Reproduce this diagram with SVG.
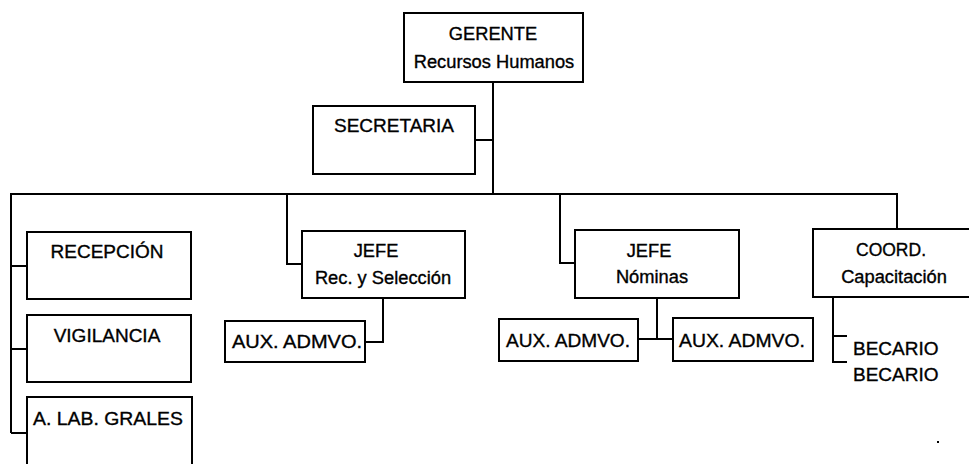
<svg xmlns="http://www.w3.org/2000/svg" width="969" height="464" viewBox="0 0 969 464">
  <style>
    .box { fill: #ffffff; stroke: #000000; stroke-width: 2; }
    .link { fill: none; stroke: #000000; stroke-width: 2; }
    text { font-family: "Liberation Sans", Arial, sans-serif; font-size: 19px; fill: #000000; stroke: #000000; stroke-width: 0.35; }
    .c { text-anchor: middle; }
    .s { font-size: 18.3px; }
  </style>
  <rect x="0" y="0" width="969" height="464" fill="#ffffff"/>

  <g id="connectors">
    <!-- trunk from the manager down to the main bus -->
    <path class="link" d="M493,82 V194"/>
    <path class="link" d="M475,140 H493"/>
    <!-- main bus -->
    <path class="link" d="M11,433 V194 H897 V229"/>
    <!-- left column ticks -->
    <path class="link" d="M11,266 H27 M11,349 H27 M11,433 H27"/>
    <!-- department heads -->
    <path class="link" d="M287,194 V264 H302"/>
    <path class="link" d="M560,194 V263 H575"/>
    <!-- assistants -->
    <path class="link" d="M383,298 V342 H365"/>
    <path class="link" d="M657,298 V339 M638,339 H673"/>
    <!-- interns bracket -->
    <path class="link" d="M833,297 V362 H847 M833,336 H847"/>
  </g>

  <g id="gerente">
    <rect class="box" x="404" y="13" width="179" height="69"/>
    <text class="c s" x="493" y="40">GERENTE</text>
    <text class="c s" x="494" y="68">Recursos Humanos</text>
  </g>

  <g id="secretaria">
    <rect class="box" x="313" y="106" width="162" height="68"/>
    <text class="c" x="394" y="132">SECRETARIA</text>
  </g>

  <g id="recepcion">
    <rect class="box" x="27" y="232" width="164" height="67"/>
    <text class="c" x="107" y="258">RECEPCIÓN</text>
  </g>

  <g id="vigilancia">
    <rect class="box" x="27" y="315" width="164" height="67"/>
    <text class="c" x="107" y="342">VIGILANCIA</text>
  </g>

  <g id="lab-grales">
    <path class="link" d="M27,470 V397 H192 V470"/>
    <text x="33" y="425" textLength="150" lengthAdjust="spacingAndGlyphs">A. LAB. GRALES</text>
  </g>

  <g id="jefe-seleccion">
    <rect class="box" x="302" y="231" width="163" height="67"/>
    <text class="c s" x="376" y="257">JEFE</text>
    <text class="c s" x="383" y="284">Rec. y Selección</text>
  </g>

  <g id="aux-seleccion">
    <rect class="box" x="225" y="321" width="140" height="41"/>
    <text class="c" x="297" y="348" textLength="130" lengthAdjust="spacingAndGlyphs">AUX. ADMVO.</text>
  </g>

  <g id="jefe-nominas">
    <rect class="box" x="575" y="230" width="164" height="68"/>
    <text class="c s" x="649" y="257">JEFE</text>
    <text class="c s" x="652" y="283">Nóminas</text>
  </g>

  <g id="aux-nominas-1">
    <rect class="box" x="499" y="319" width="139" height="42"/>
    <text class="c" x="568" y="347" textLength="124" lengthAdjust="spacingAndGlyphs">AUX. ADMVO.</text>
  </g>

  <g id="aux-nominas-2">
    <rect class="box" x="673" y="318" width="140" height="43"/>
    <text class="c" x="742" y="347" textLength="126" lengthAdjust="spacingAndGlyphs">AUX. ADMVO.</text>
  </g>

  <g id="coord-capacitacion">
    <rect class="box" x="813" y="229" width="170" height="68"/>
    <text class="c" x="891" y="256" style="font-size:17.5px">COORD.</text>
    <text class="c s" x="894" y="283">Capacitación</text>
  </g>

  <g id="becarios">
    <text x="853" y="355">BECARIO</text>
    <text x="853" y="381">BECARIO</text>
  </g>

  <rect x="937" y="441" width="2" height="2" fill="#000000"/>
</svg>
